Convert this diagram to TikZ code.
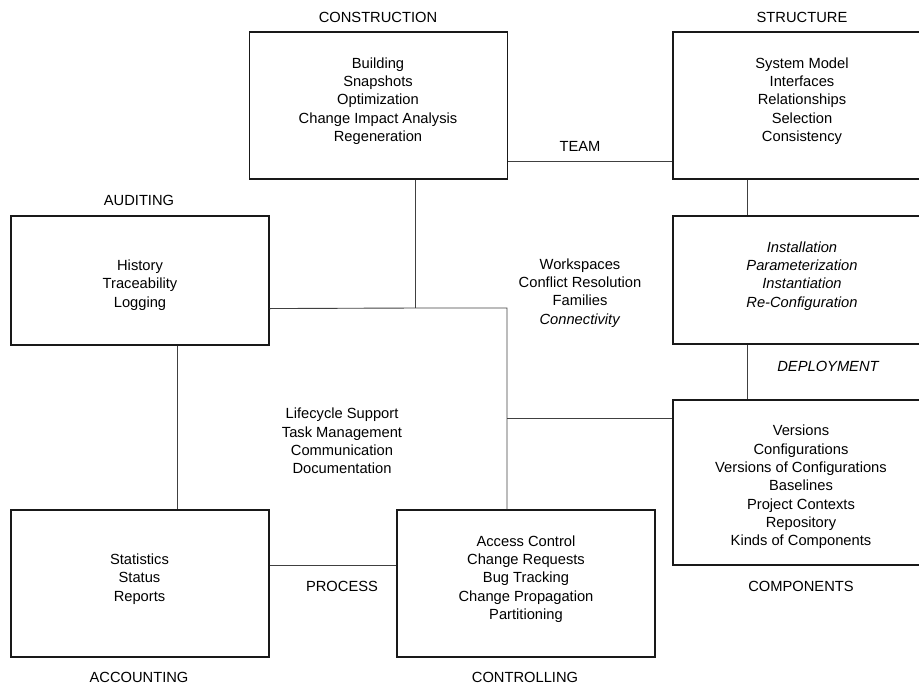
\documentclass[tikz,border=0pt]{standalone}
\usepackage{fontspec}
\setmainfont{Liberation Sans}
\begin{document}
\begin{tikzpicture}[x=1pt, y=-1pt,
    area/.style={draw=black!90, line width=1.1pt, inner sep=0pt, minimum width=258pt},
    items/.style={align=center, font=\fontsize{14.7}{18.3}\selectfont},
    title/.style={font=\fontsize{14.7}{18.3}\selectfont},
    link/.style={draw=black!75, line width=0.9pt}]
    \clip (0,0) rectangle (919,686);

    % Boxes
    \node[area, minimum height=147pt] (constr) at (378.5, 105.5) {};
    \node[area, minimum height=147pt] (struct) at (802, 105.5) {};
    \node[area, minimum height=129pt] (audit) at (140, 280.5) {};
    \node[area, minimum height=128pt] (deploy) at (802, 280) {};
    \node[area, minimum height=165pt] (comp) at (802, 482.5) {};
    \node[area, minimum height=147pt] (acct) at (140, 583.5) {};
    \node[area, minimum height=147pt] (ctrl) at (526, 583.5) {};

    % Box contents
    \node[items] (constrtxt) at (378, 101) {Building\\Snapshots\\Optimization\\Change Impact Analysis\\Regeneration};
    \node[items] (structtxt) at (802, 101) {System Model\\Interfaces\\Relationships\\Selection\\Consistency};
    \node[items] (audittxt) at (140, 285) {History\\Traceability\\Logging};
    \node[items, font=\fontsize{14.7}{18.3}\selectfont\itshape] (deploytxt) at (802, 276) {Installation\\Parameterization\\Instantiation\\Re-Configuration};
    \node[items] (comptxt) at (801, 487) {Versions\\Configurations\\Versions of Configurations\\Baselines\\Project Contexts\\Repository\\Kinds of Components};
    \node[items] (accttxt) at (139.5, 579) {Statistics\\Status\\Reports};
    \node[items] (ctrltxt) at (526, 579) {Access Control\\Change Requests\\Bug Tracking\\Change Propagation\\Partitioning};

    % Free-standing contents
    \node[items] (teamtxt) at (580, 293) {Workspaces\\Conflict Resolution\\Families\\\textit{Connectivity}};
    \node[items] (proctxt) at (342, 441) {Lifecycle Support\\Task Management\\Communication\\Documentation};

    % Titles
    \node[title] (constrlbl) at (378, 17) {CONSTRUCTION};
    \node[title] (structlbl) at (802, 17) {STRUCTURE};
    \node[title] (auditlbl) at (139, 200) {AUDITING};
    \node[title] (teamlbl) at (580, 146) {TEAM};
    \node[title, font=\fontsize{14.7}{18.3}\selectfont\itshape] (deploylbl) at (828, 366) {DEPLOYMENT};
    \node[title] (complbl) at (801, 586) {COMPONENTS};
    \node[title] (proclbl) at (342, 586) {PROCESS};
    \node[title] (acctlbl) at (139, 677) {ACCOUNTING};
    \node[title] (ctrllbl) at (525, 677) {CONTROLLING};

    % Connectors
    \coordinate (jn) at (415.5, 308);
    \coordinate (hub) at (507, 308);
    \coordinate (tap) at (507, 418);

    \draw[link] ([yshift=18pt]constr.south east) -- ([yshift=18pt]struct.south west);
    \draw[link] ([xshift=37pt]constr.south) -- (jn);
    \draw[link] ([yshift=37pt]audit.south east) -- (jn) -- (hub) -- (hub |- ctrl.north);
    \draw[link] (tap) -- (tap -| comp.west);
    \draw[link] ([xshift=-55pt]struct.south) -- ([xshift=-55pt]deploy.north);
    \draw[link] ([xshift=-55pt]deploy.south) -- ([xshift=-55pt]comp.north);
    \draw[link] ([xshift=37pt]audit.south) -- ([xshift=37pt]acct.north);
    \draw[link] ([yshift=92pt]acct.south east) -- ([yshift=92pt]ctrl.south west);
\end{tikzpicture}
\end{document}
